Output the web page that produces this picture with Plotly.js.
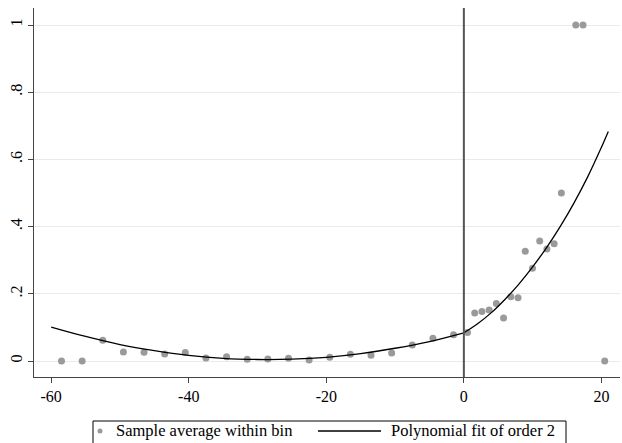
<!DOCTYPE html>
<html>
<head>
<meta charset="utf-8">
<script src="https://cdn.plot.ly/plotly-3.0.1.min.js"></script>
<style>html,body{margin:0;padding:0;background:#fff;}#chart{width:622px;height:443px;}</style>
</head>
<body>
<div id="chart"></div>
<script>
// Bin averages (left of cutoff: bins of width 3; right: bins of width 1.05)
var binX = [-58.5,-55.5,-52.5,-49.5,-46.5,-43.5,-40.5,-37.5,-34.5,-31.5,-28.5,-25.5,-22.5,-19.5,-16.5,-13.5,-10.5,-7.5,-4.5,-1.5,
            0.525,1.575,2.625,3.675,4.725,5.775,6.825,7.875,8.925,9.975,11.025,12.075,13.125,14.175,16.275,17.325,20.475];
var binY = [0,0,0.062,0.027,0.026,0.021,0.025,0.009,0.013,0.005,0.006,0.008,0.003,0.011,0.020,0.017,0.024,0.048,0.068,0.078,
            0.085,0.143,0.147,0.152,0.171,0.128,0.191,0.188,0.327,0.276,0.357,0.333,0.349,0.500,1.0,1.0,0];
// Fitted curve (left and right of cutoff)
var fitLeftX = [-60,-55,-50,-45,-40,-35,-30,-25,-20,-15,-10,-5,0];
var fitLeftY = [0.101,0.073,0.049,0.031,0.017,0.008,0.0045,0.0055,0.011,0.022,0.038,0.058,0.084];
var fitRightX = [0,2,4,6,8,10,12,14,16,18,20,21];
var fitRightY = [0.084,0.111,0.144,0.184,0.229,0.280,0.337,0.400,0.470,0.548,0.636,0.683];
var cutoff = 0;
var xTicks = [-60,-40,-20,0,20];
var xTickText = ['-60','-40','-20','0','20'];
var yTicks = [0,0.2,0.4,0.6,0.8,1];
var yTickText = ['0','.2','.4','.6','.8','1'];
var legendLabels = ['Sample average within bin', 'Polynomial fit of order 2'];

var font = 'Liberation Serif, Times New Roman, serif';
var markerColor = '#9a9a9a';

var traces = [
  {x: binX, y: binY, type: 'scatter', mode: 'markers', name: legendLabels[0],
   marker: {color: markerColor, size: 7}},
  {x: fitLeftX, y: fitLeftY, type: 'scatter', mode: 'lines', name: legendLabels[1],
   line: {color: '#000', width: 1.3, shape: 'spline'}},
  {x: fitRightX, y: fitRightY, type: 'scatter', mode: 'lines', name: legendLabels[1],
   line: {color: '#000', width: 1.3, shape: 'spline'}}
];

// plot area in pixels: x 34..620, y 8..377
function px(p) { return (p - 34) / 586; }
function py(p) { return (377 - p) / 369; }

var layout = {
  width: 622, height: 443,
  margin: {l: 34, r: 2, t: 8, b: 66},
  paper_bgcolor: '#fff', plot_bgcolor: '#fff',
  font: {family: font, size: 16, color: '#000'},
  showlegend: false,
  xaxis: {range: [-62.5, 22.7], tickvals: xTicks, ticktext: xTickText, ticks: 'outside', ticklen: 5, tickcolor: '#444',
          showgrid: false, zeroline: false, showline: true, linecolor: '#444', linewidth: 1,
          tickfont: {family: font, size: 16, color: '#000'}, automargin: false},
  yaxis: {range: [-0.0476, 1.0506], tickvals: yTicks, ticktext: yTickText, tickangle: -90,
          ticks: 'outside', ticklen: 5, tickcolor: '#444',
          showgrid: true, gridcolor: '#eaeaea', gridwidth: 1, zeroline: false,
          showline: true, linecolor: '#444', linewidth: 1,
          tickfont: {family: font, size: 16, color: '#000'}, automargin: false},
  shapes: [
    {type: 'line', xref: 'x', yref: 'paper', x0: cutoff, x1: cutoff, y0: 0, y1: 1,
     line: {color: '#555', width: 2}},
    // legend box
    {type: 'rect', xref: 'paper', yref: 'paper', x0: px(93), x1: px(566), y0: py(447), y1: py(421),
     line: {color: '#000', width: 1}, fillcolor: 'rgba(0,0,0,0)'},
    // legend marker key
    {type: 'circle', xref: 'paper', yref: 'paper', x0: px(97.5), x1: px(102.5), y0: py(433.5), y1: py(428.5),
     line: {color: markerColor, width: 0}, fillcolor: markerColor},
    // legend line key
    {type: 'line', xref: 'paper', yref: 'paper', x0: px(318), x1: px(381), y0: py(431), y1: py(431),
     line: {color: '#000', width: 1.3}}
  ],
  annotations: [
    {xref: 'paper', yref: 'paper', x: px(114), y: py(431), xanchor: 'left', yanchor: 'middle',
     text: legendLabels[0], showarrow: false, font: {family: font, size: 16.5, color: '#000'}},
    {xref: 'paper', yref: 'paper', x: px(389), y: py(431), xanchor: 'left', yanchor: 'middle',
     text: legendLabels[1], showarrow: false, font: {family: font, size: 16.5, color: '#000'}}
  ]
};

Plotly.newPlot('chart', traces, layout, {displayModeBar: false, staticPlot: true});
</script>
</body>
</html>
